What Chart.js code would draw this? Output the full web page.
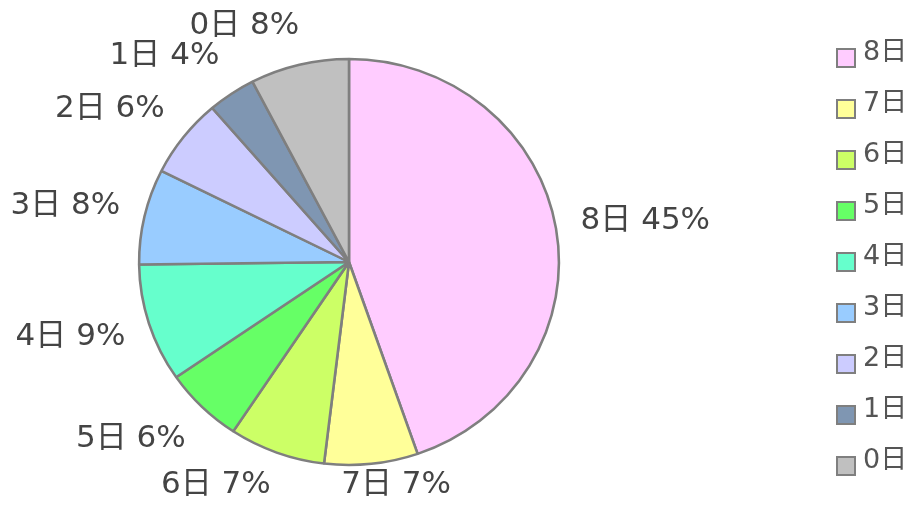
<!DOCTYPE html>
<html>
<head>
<meta charset="utf-8">
<script src="https://cdn.jsdelivr.net/npm/chart.js@4/dist/chart.umd.min.js"></script>
<style>
  html, body { margin: 0; padding: 0; background: #fff; }
  #wrap { width: 916px; height: 511px; }
</style>
</head>
<body>
<div id="wrap"><canvas id="myChart" width="916" height="511"></canvas></div>
<script>
// days, clockwise from the top
const days = ['8日', '7日', '6日', '5日', '4日', '3日', '2日', '1日', '0日'];
// share of each slice (percent)
const shares = [44.7, 7.2, 7.4, 6.1, 9.4, 7.6, 6.3, 3.7, 7.6];
const sliceColors = ['#ffccff', '#ffff99', '#ccff66', '#66ff66', '#66ffcc', '#99ccff', '#ccccff', '#7f96b2', '#c0c0c0'];

const FONT = '"DejaVu Sans", Verdana, "Noto Sans CJK JP", sans-serif';
const stretchX = 1.034; // the pie in the picture is a bit wider than tall

// widen the pie a little
const stretch = {
  id: 'stretch',
  beforeDatasetsDraw(chart) {
    const arc = chart.getDatasetMeta(0).data[0];
    const ctx = chart.ctx;
    ctx.save();
    ctx.translate(arc.x, arc.y);
    ctx.scale(stretchX, 1);
    ctx.translate(-arc.x, -arc.y);
  },
  afterDatasetsDraw(chart) {
    chart.ctx.restore();
  }
};

// labels "8日 45%" outside each slice
const outLabels = {
  id: 'outLabels',
  afterDatasetsDraw(chart) {
    const ctx = chart.ctx;
    const meta = chart.getDatasetMeta(0);
    const data = chart.data.datasets[0].data;
    let total = 0;
    for (let i = 0; i < data.length; i++) total += data[i];
    ctx.save();
    ctx.font = '31px ' + FONT;
    ctx.fillStyle = '#444';
    ctx.textAlign = 'center';
    ctx.textBaseline = 'middle';
    meta.data.forEach((arc, i) => {
      const p = arc.getProps(['x', 'y', 'startAngle', 'endAngle', 'outerRadius']);
      const mid = (p.startAngle + p.endAngle) / 2;
      const c = Math.cos(mid), s = Math.sin(mid);
      const txt = chart.data.labels[i] + ' ' + Math.round(data[i] / total * 100) + '%';
      const w = ctx.measureText(txt).width;
      const h = 24;
      const ax = p.x + c * (p.outerRadius * stretchX + 29);
      const ay = p.y + s * (p.outerRadius + 33);
      const t = Math.max(-1, Math.min(1, c / 0.25));
      const cx = ax + t * (w / 2 - 4);
      let cy = ay + s * h / 2;
      cy = Math.max(14 + h / 2, Math.min(chart.height - 14 - h / 2, cy));
      ctx.fillText(txt, cx, cy);
    });
    ctx.restore();
  }
};

// legend column on the right
const sideLegend = {
  id: 'sideLegend',
  afterDraw(chart) {
    const ctx = chart.ctx;
    const ds = chart.data.datasets[0];
    ctx.save();
    ctx.font = '27px ' + FONT;
    ctx.textBaseline = 'middle';
    ctx.textAlign = 'left';
    chart.data.labels.forEach((lab, i) => {
      const y = 58 + i * 51;
      ctx.fillStyle = ds.backgroundColor[i];
      ctx.strokeStyle = ds.borderColor;
      ctx.lineWidth = 2;
      ctx.fillRect(837, y - 9, 18, 18);
      ctx.strokeRect(837, y - 9, 18, 18);
      ctx.fillStyle = '#555';
      ctx.fillText(lab, 863, y - 5);
    });
    ctx.restore();
  }
};

let ctx = document.getElementById('myChart').getContext('2d');
let myChart = new Chart(ctx, {
  type: 'pie',
  data: {
    labels: days,
    datasets: [{
      data: shares,
      backgroundColor: sliceColors,
      borderColor: '#7f7f7f',
      borderWidth: 2.5,
      hoverOffset: 0
    }]
  },
  options: {
    responsive: false,
    animation: false,
    radius: 203,
    layout: { padding: { left: 0, right: 218, top: 13, bottom: 0 } },
    plugins: {
      legend: { display: false },
      tooltip: { enabled: false }
    }
  },
  plugins: [stretch, outLabels, sideLegend]
});
</script>
</body>
</html>
